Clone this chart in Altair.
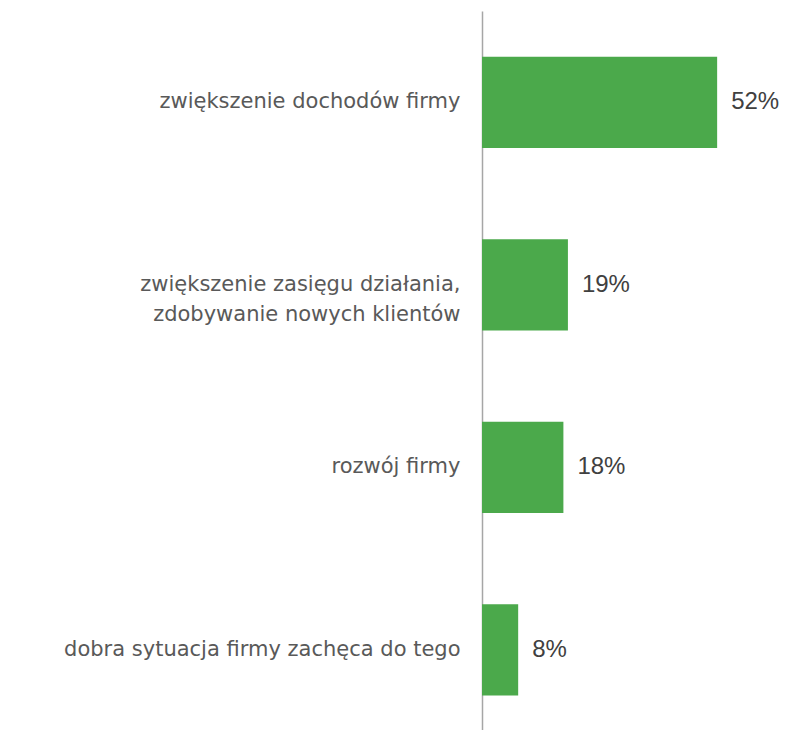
import altair as alt
import pandas as pd

categories = [
    "zwiększenie dochodów firmy",
    "zwiększenie zasięgu działania,|zdobywanie nowych klientów",
    "rozwój firmy",
    "dobra sytuacja firmy zachęca do tego",
]
values = [52, 19, 18, 8]
value_labels = ["52%", "19%", "18%", "8%"]

df = pd.DataFrame({"cat": categories, "val": values, "lab": value_labels})

y = alt.Y(
    "cat:N",
    sort=categories,
    scale=alt.Scale(paddingInner=0.5, paddingOuter=0.25, range=[0, 730]),
    axis=alt.Axis(
        title=None,
        ticks=False,
        domain=True,
        domainColor="#A6A6A6",
        domainWidth=1.5,
        labelExpr="split(datum.label, '|')",
        labelFont="DejaVu Sans",
        labelFontSize=21,
        labelColor="#595959",
        labelPadding=22,
        labelLineHeight=30,
        labelLimit=480,
    ),
)

x = alt.X("val:Q", scale=alt.Scale(domain=[0, 65.9]), axis=None)

bars = alt.Chart(df).mark_bar(color="#4BA94B").encode(x=x, y=y)
texts = alt.Chart(df).mark_text(
    align="left", baseline="middle", dx=14, font="Liberation Sans", fontSize=24, color="#404040"
).encode(x=x, y=y, text="lab:N")

chart = (
    (bars + texts)
    .properties(
        width=298,
        height=719,
        padding={"left": 474, "top": 3, "right": 0, "bottom": 0},
        autosize=alt.AutoSizeParams(type="none"),
    )
    .configure_view(stroke=None)
)

chart.save("out.html", embed_options={"renderer": "svg", "actions": False})
